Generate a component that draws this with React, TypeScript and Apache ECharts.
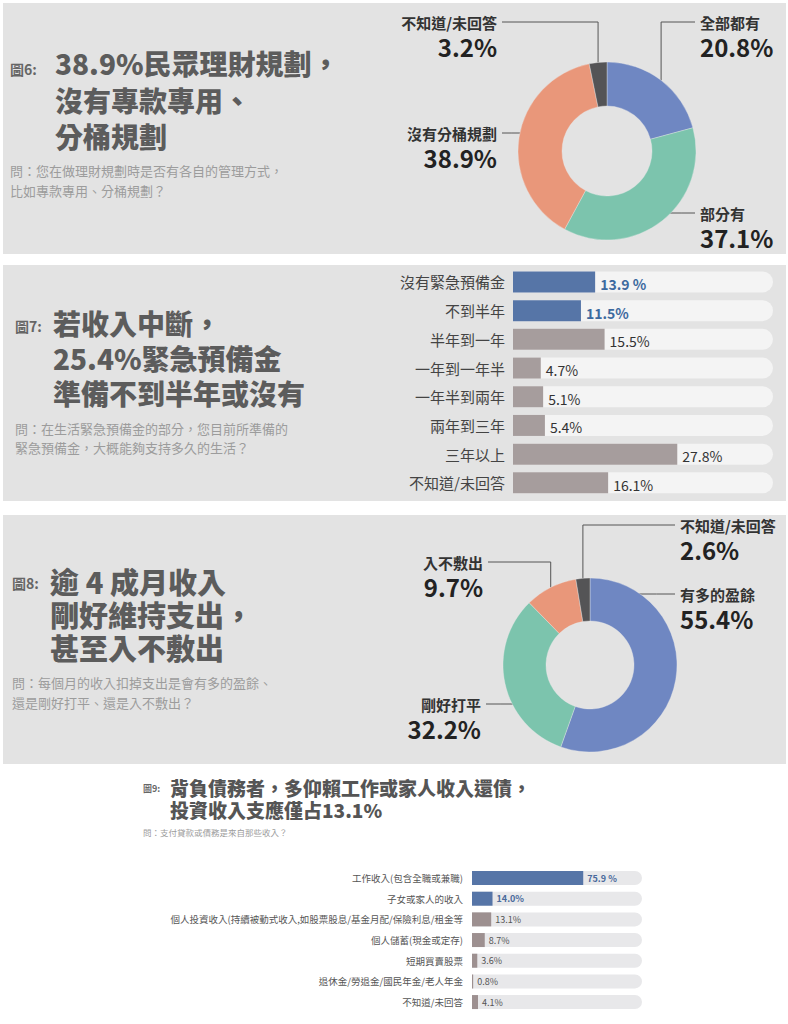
import React, { useEffect, useRef } from "react";
import * as echarts from "echarts";

const FONT = '"Noto Sans CJK TC", "Noto Sans", sans-serif';

// ---------- data ----------
const fig6Names = ["全部都有", "部分有", "沒有分桶規劃", "不知道/未回答"];
const fig6Values = [20.8, 37.1, 38.9, 3.2];

const fig7Categories = [
  "沒有緊急預備金",
  "不到半年",
  "半年到一年",
  "一年到一年半",
  "一年半到兩年",
  "兩年到三年",
  "三年以上",
  "不知道/未回答",
];
const fig7Values = [13.9, 11.5, 15.5, 4.7, 5.1, 5.4, 27.8, 16.1];

const fig8Names = ["有多的盈餘", "剛好打平", "入不敷出", "不知道/未回答"];
const fig8Values = [55.4, 32.2, 9.7, 2.6];

const fig9Categories = [
  "工作收入(包含全職或兼職)",
  "子女或家人的收入",
  "個人投資收入(持續被動式收入,如股票股息/基金月配/保險利息/租金等",
  "個人儲蓄(現金或定存)",
  "短期買賣股票",
  "退休金/勞退金/國民年金/老人年金",
  "不知道/未回答",
];
const fig9Values = [75.9, 14.0, 13.1, 8.7, 3.6, 0.8, 4.1];

// ---------- styles / layout ----------
const PANEL_BG = "#e3e3e3";
const PIE_COLORS = ["#6f87c2", "#7cc4ad", "#e9977a", "#545456"];
const BAR_BLUE = "#5675a7";
const BAR_MAUVE = "#a69d9d";
const BLUE_TEXT = "#3d6a9f";

type LabelSpec = { align: "left" | "right"; x: number; lineY: number; mode: "v" | "h" };

const pie6Layout = {
  center: [607, 151],
  radius: [45, 89],
  labels: [
    { align: "left", x: 700, lineY: 22, mode: "v" },
    { align: "left", x: 700, lineY: 213, mode: "h" },
    { align: "right", x: 497, lineY: 133, mode: "h" },
    { align: "right", x: 497, lineY: 22, mode: "v" },
  ] as LabelSpec[],
};

const pie8Layout = {
  center: [590, 665],
  radius: [44, 87],
  labels: [
    { align: "left", x: 680, lineY: 594, mode: "h" },
    { align: "right", x: 481, lineY: 704, mode: "h" },
    { align: "right", x: 483, lineY: 562, mode: "v" },
    { align: "left", x: 680, lineY: 525, mode: "v" },
  ] as LabelSpec[],
};

function makePie(names: string[], values: number[], layout: { center: number[]; radius: number[]; labels: LabelSpec[] }) {
  const total = values.reduce((a, b) => a + b, 0);
  const mids: number[] = [];
  let acc = 0;
  values.forEach((v) => {
    mids.push(((acc + v / 2) / total) * 2 * Math.PI);
    acc += v;
  });
  const [cx, cy] = layout.center;
  const r = layout.radius[1];
  return {
    type: "pie",
    center: layout.center,
    radius: layout.radius,
    startAngle: 90,
    clockwise: true,
    silent: true,
    avoidLabelOverlap: false,
    itemStyle: { borderColor: "rgba(235,235,235,0.6)", borderWidth: 0.6 },
    data: names.map((n, i) => ({ name: n, value: values[i], itemStyle: { color: PIE_COLORS[i] } })),
    label: {
      show: true,
      position: "outside",
      formatter: (p: any) => `{n|${p.name}}\n{v|${p.value}%}`,
      rich: {
        n: { fontSize: 15, fontWeight: "bold", color: "#333", lineHeight: 20, fontFamily: FONT },
        v: { fontSize: 24, fontWeight: "bold", color: "#222", lineHeight: 28, fontFamily: FONT },
      },
    },
    labelLine: { show: true, length: 10, length2: 10, lineStyle: { color: "#555", width: 1 } },
    labelLayout: (p: any) => {
      const i = p.dataIndex;
      const s = layout.labels[i];
      const gap = 5;
      const endX = s.align === "left" ? s.x - gap : s.x + gap;
      let pts: number[][];
      if (s.mode === "v") {
        const ex = cx + r * Math.sin(mids[i]);
        const ey = cy - r * Math.cos(mids[i]);
        pts = [
          [ex, ey],
          [ex, s.lineY],
          [endX, s.lineY],
        ];
      } else {
        const dy = s.lineY - cy;
        const dx = Math.sqrt(Math.max(0, r * r - dy * dy));
        const ex = s.align === "left" ? cx + dx - 2 : cx - dx + 2;
        pts = [
          [ex, s.lineY],
          [(ex + endX) / 2, s.lineY],
          [endX, s.lineY],
        ];
      }
      return {
        x: s.x,
        y: s.lineY - 10,
        align: s.align,
        verticalAlign: "top",
        labelLinePoints: pts,
      };
    },
  };
}

type TitleSpec = {
  fig: string;
  figX: number;
  figY: number;
  figSize: number;
  x: number;
  lines: string[];
  top: number;
  lh: number;
  size: number;
  color: string;
  qx: number;
  q: string[];
  qtop: number;
  qlh: number;
  qsize: number;
};

const titles: TitleSpec[] = [
  {
    fig: "圖6:", figX: 10, figY: 69, figSize: 14,
    x: 55, lines: ["38.9%民眾理財規劃，", "沒有專款專用、", "分桶規劃"], top: 45, lh: 36.5, size: 28, color: "#5c5c5c",
    qx: 10, q: ["問：您在做理財規劃時是否有各自的管理方式，", "比如專款專用、分桶規劃？"], qtop: 160, qlh: 20, qsize: 13,
  },
  {
    fig: "圖7:", figX: 15, figY: 326, figSize: 14,
    x: 53, lines: ["若收入中斷，", "25.4%緊急預備金", "準備不到半年或沒有"], top: 305.5, lh: 35, size: 28, color: "#5c5c5c",
    qx: 15, q: ["問：在生活緊急預備金的部分，您目前所準備的", "緊急預備金，大概能夠支持多久的生活？"], qtop: 418.5, qlh: 19, qsize: 13,
  },
  {
    fig: "圖8:", figX: 12, figY: 583, figSize: 14,
    x: 50, lines: ["逾 4 成月收入", "剛好維持支出，", "甚至入不敷出"], top: 564.5, lh: 33, size: 29, color: "#5c5c5c",
    qx: 12, q: ["問：每個月的收入扣掉支出是會有多的盈餘、", "還是剛好打平、還是入不敷出？"], qtop: 672, qlh: 20, qsize: 13,
  },
  {
    fig: "圖9:", figX: 143, figY: 788, figSize: 9,
    x: 170, lines: ["背負債務者，多仰賴工作或家人收入還債，", "投資收入支應僅占13.1%"], top: 776, lh: 22, size: 19, color: "#555",
    qx: 143, q: ["問：支付貸款或債務是來自那些收入？"], qtop: 825, qlh: 14, qsize: 8.5,
  },
];

const panels = [
  { x: 3, y: 3, w: 783, h: 251 },
  { x: 3, y: 265, w: 783, h: 236 },
  { x: 3, y: 515, w: 783, h: 249 },
];

function buildGraphics() {
  const g: any[] = [];
  panels.forEach((p) => {
    g.push({ type: "rect", shape: { x: p.x, y: p.y, width: p.w, height: p.h }, style: { fill: PANEL_BG }, z: -10, silent: true });
  });
  titles.forEach((t) => {
    g.push({
      type: "text", x: t.figX, y: t.figY, silent: true,
      style: { text: t.fig, fill: "#666", fontSize: t.figSize, fontWeight: "bold", fontFamily: FONT, verticalAlign: "middle", align: "left" },
    });
    g.push({
      type: "text", x: t.x, y: t.top, silent: true,
      style: {
        text: t.lines.join("\n"), fill: t.color, fontSize: t.size, fontWeight: 900, fontFamily: FONT,
        lineHeight: t.lh, verticalAlign: "top", align: "left",
      },
    });
    g.push({
      type: "text", x: t.qx, y: t.qtop, silent: true,
      style: {
        text: t.q.join("\n"), fill: "#9c9c9c", fontSize: t.qsize, fontFamily: FONT,
        lineHeight: t.qlh, verticalAlign: "top", align: "left",
      },
    });
  });
  return g;
}

export default function App() {
  const ref = useRef<HTMLDivElement>(null);
  useEffect(() => {
    if (!ref.current) return;
    const chart = echarts.init(ref.current, null, { renderer: "svg" });
    const option: any = {
      animation: false,
      backgroundColor: "#ffffff",
      textStyle: { fontFamily: FONT },
      graphic: { elements: buildGraphics() },
      grid: [
        { left: 513, top: 267.6, width: 260, height: 229.6, containLabel: false },
        { left: 472, top: 867.7, width: 170, height: 144.7, containLabel: false },
      ],
      xAxis: [
        { gridIndex: 0, type: "value", min: 0, max: 44, show: false },
        { gridIndex: 1, type: "value", min: 0, max: 116, show: false },
      ],
      yAxis: [
        {
          gridIndex: 0, type: "category", data: fig7Categories, inverse: true,
          axisLine: { show: false }, axisTick: { show: false },
          axisLabel: { fontSize: 15, color: "#444", margin: 8, fontFamily: FONT },
        },
        {
          gridIndex: 1, type: "category", data: fig9Categories, inverse: true,
          axisLine: { show: false }, axisTick: { show: false },
          axisLabel: { fontSize: 9.5, color: "#555", margin: 9, fontFamily: FONT },
        },
      ],
      series: [
        makePie(fig6Names, fig6Values, pie6Layout),
        makePie(fig8Names, fig8Values, pie8Layout),
        {
          type: "bar", xAxisIndex: 0, yAxisIndex: 0, barWidth: 21, silent: true,
          showBackground: true,
          backgroundStyle: { color: "#f4f4f4", borderRadius: [0, 11, 11, 0] },
          data: fig7Values.map((v, i) => ({
            value: v,
            itemStyle: { color: i < 2 ? BAR_BLUE : BAR_MAUVE },
            label: { color: i < 2 ? BLUE_TEXT : "#333", fontWeight: i < 2 ? "bold" : "normal" },
          })),
          label: {
            show: true, position: "right", distance: 5, offset: [0, 2], fontSize: 14, fontFamily: FONT,
            formatter: (p: any) => (p.dataIndex === 0 ? `${p.value} %` : `${p.value}%`),
          },
        },
        {
          type: "bar", xAxisIndex: 1, yAxisIndex: 1, barWidth: 14, silent: true,
          showBackground: true,
          backgroundStyle: { color: "#e8e8ea", borderRadius: [0, 8, 8, 0] },
          data: fig9Values.map((v, i) => ({
            value: v,
            itemStyle: { color: i < 2 ? BAR_BLUE : "#9d9090" },
            label: { color: i < 2 ? "#4a6a9c" : "#555", fontWeight: i < 2 ? "bold" : "normal" },
          })),
          label: {
            show: true, position: "right", distance: 4, fontSize: 9, fontFamily: FONT,
            formatter: (p: any) => (p.dataIndex === 0 ? `${p.value.toFixed(1)} %` : `${p.value.toFixed(1)}%`),
          },
        },
      ],
    };
    chart.setOption(option);
    return () => chart.dispose();
  }, []);
  return (
    <div
      ref={ref}
      style={{ position: "absolute", left: 0, top: 0, width: 788, height: 1024 }}
    />
  );
}
